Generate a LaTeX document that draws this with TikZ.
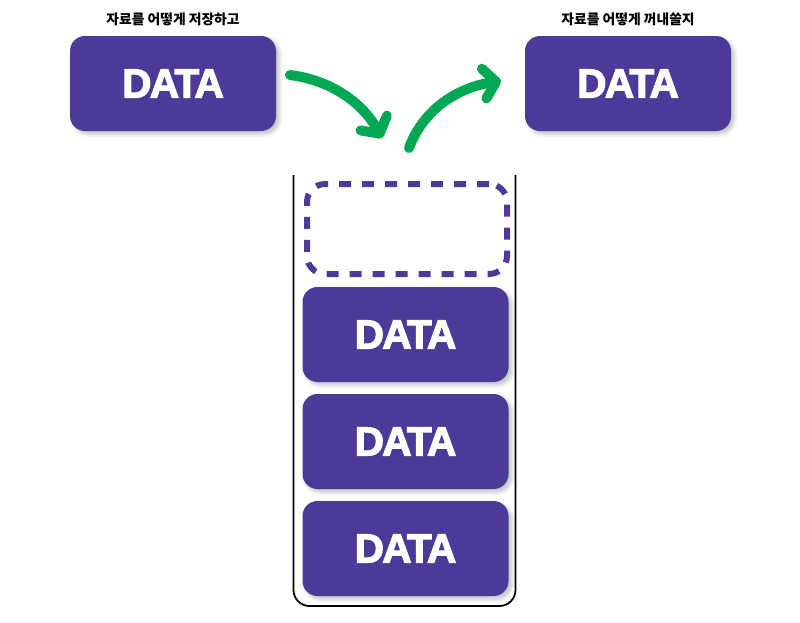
\documentclass[tikz,border=0pt]{standalone}
\usepackage{fontspec}
\setmainfont{Liberation Sans}
\newfontfamily\krfont{Noto Sans CJK KR}
\newfontfamily\datafont{Liberation Sans}[BoldFeatures={FakeBold=3}, LetterSpace=-4]
\usetikzlibrary{arrows.meta,shadows.blur}
\definecolor{dpurple}{RGB}{76,57,152}
\definecolor{dgreen}{RGB}{0,168,84}
\tikzset{
  databox/.style={fill=dpurple, rounded corners=15pt, minimum width=206pt, minimum height=95pt,
    inner sep=0pt, text=white, font=\datafont\bfseries\fontsize{40.5}{40}\selectfont,
    blur shadow={shadow xshift=3pt, shadow yshift=-3pt, shadow blur radius=4pt, shadow opacity=25}},
  emptybox/.style={draw=dpurple, line width=6pt, dash pattern=on 12pt off 11pt, rounded corners=18pt,
    minimum width=200pt, minimum height=90pt, inner sep=0pt},
  krlabel/.style={font=\krfont\bfseries\fontsize{13.8}{14}\selectfont, inner sep=0pt},
  greenarrow/.style={draw=dgreen, line width=10pt, line cap=round,
    -{Straight Barb[round, length=12pt, width=30pt]}},
  container/.style={draw=black, line width=1.8pt, rounded corners=16pt}
}
\begin{document}
\begin{tikzpicture}[x=1pt,y=1pt]
\useasboundingbox (0,0) rectangle (800,-622);
% top boxes
\node[databox] (inbox) at (173,-83.5) {DATA};
\node[databox] (outbox) at (628,-83.5) {DATA};
\node[krlabel] (inlabel) at (173,-19) {자료를 어떻게 저장하고};
\node[krlabel] (outlabel) at (628,-19) {자료를 어떻게 꺼내쓸지};
% container
\coordinate (ctl) at (293.5,-175);
\coordinate (ctr) at (515.5,-175);
\draw[container] (ctl) -- (293.5,-606) -- (515.5,-606) -- (ctr);
% empty slot
\node[emptybox] (slot) at (407,-229) {};
% stack
\node[databox] (s1) at (405.5,-334.5) {DATA};
\node[databox] (s2) at (405.5,-441.5) {DATA};
\node[databox] (s3) at (405.5,-548.5) {DATA};
% arrows
\coordinate (pushstart) at (290,-75);
\coordinate (pushend) at (382,-138);
\coordinate (popstart) at (409,-148);
\coordinate (popend) at (501,-81);
\draw[greenarrow] (pushstart) .. controls (330,-80) and (362,-102) .. (pushend);
\draw[greenarrow] (popstart) .. controls (422,-112) and (455,-88) .. (popend);
\end{tikzpicture}
\end{document}
